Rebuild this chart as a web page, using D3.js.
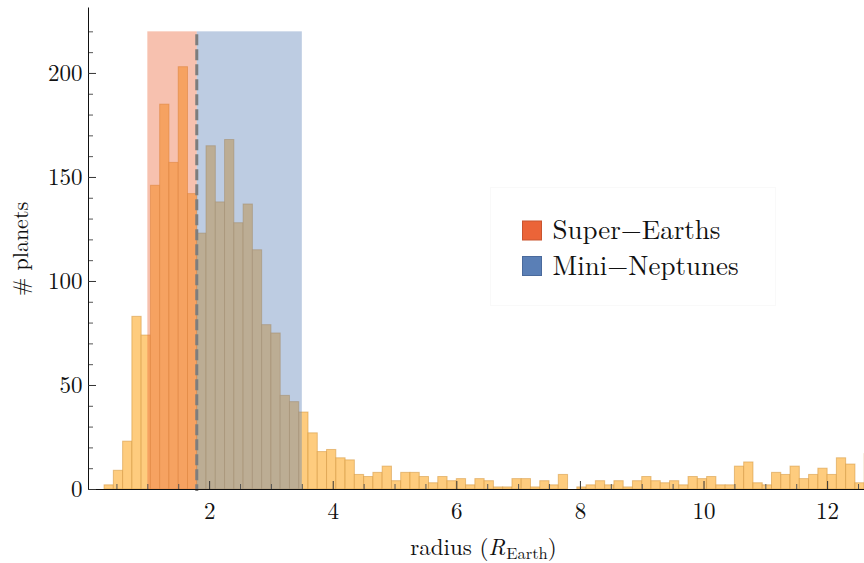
<!DOCTYPE html>
<html><head><meta charset="utf-8">
<script src="https://cdn.jsdelivr.net/npm/d3@7"></script>
</head><body style="margin:0;background:#fff">
<svg id="chart" width="864" height="563" style="display:block"></svg>
<script>
// ---- data ----
const binStart = 0.3;      // left edge of first histogram bin (R_Earth)
const binWidth = 0.15;     // bin width (R_Earth)
const counts = [
  2, 9, 23, 83, 74, 146, 185, 157, 203, 142,      // 0.30 - 1.65
  123, 165, 138, 168, 128, 137, 115, 79, 75, 45,  // 1.80 - 3.15
  42, 37, 27, 18, 19, 15, 14, 7, 6, 8,            // 3.30 - 4.65
  11, 4, 8, 8, 6, 3, 6, 4, 5, 2,                  // 4.80 - 6.15
  5, 4, 1, 1, 5, 5, 1, 4, 2, 7,                   // 6.30 - 7.65
  0, 1, 2, 4, 2, 4, 1, 4, 6, 4,                   // 7.80 - 9.15
  3, 4, 2, 6, 5, 6, 2, 2, 11, 13,                 // 9.30 - 10.65
  3, 2, 8, 7, 11, 5, 7, 10, 7, 15,                // 10.80 - 12.15
  12, 3, 17                                       // 12.30 - 12.60
];
const regionNames = ["Super\u2212Earths", "Mini\u2212Neptunes"];
const regionFrom = [1.0, 1.8];
const regionTo = [1.8, 3.5];
const regionHeight = 220;
const dividerRadius = 1.8;
const xMajorTicks = [2, 4, 6, 8, 10, 12];
const yMajorTicks = [0, 50, 100, 150, 200];
const xLabel = "radius";
const yLabel = "# planets";

// ---- styles ----
const FONT = '"Latin Modern Roman","Liberation Serif",serif';
const barFill = "#fecc7e";
const barStroke = "rgba(212,150,60,0.55)";
const regionColors = ["rgb(235,100,56)", "rgb(90,127,182)"];
const legendStroke = ["#c9542f", "#4a6a9c"];

const svg = d3.select("#chart");
const x = d3.scaleLinear().domain([0.04, 12.6]).range([88, 864.2]);
const y = d3.scaleLinear().domain([0, 231.7]).range([489, 7]);

const bins = counts.map((c, i) => ({x0: binStart + i * binWidth, x1: binStart + (i + 1) * binWidth, c}));

// bars
svg.append("g").selectAll("rect").data(bins.filter(d => d.c > 0)).join("rect")
  .attr("x", d => x(d.x0))
  .attr("width", d => x(d.x1) - x(d.x0))
  .attr("y", d => y(d.c))
  .attr("height", d => y(0) - y(d.c))
  .attr("fill", barFill)
  .attr("stroke", barStroke)
  .attr("stroke-width", 1);

// shaded regions
svg.append("g").selectAll("rect").data(regionNames).join("rect")
  .attr("x", (d, i) => x(regionFrom[i]))
  .attr("width", (d, i) => x(regionTo[i]) - x(regionFrom[i]))
  .attr("y", y(regionHeight))
  .attr("height", y(0) - y(regionHeight))
  .attr("fill", (d, i) => regionColors[i])
  .attr("fill-opacity", 0.4);

// divider
svg.append("line")
  .attr("x1", x(dividerRadius)).attr("x2", x(dividerRadius))
  .attr("y1", y(regionHeight) + 3).attr("y2", y(0) + 2)
  .attr("stroke", "#7d7d7d").attr("stroke-width", 3)
  .attr("stroke-dasharray", "11,4");

// axes
const xMinor = d3.range(0.5, 12.6, 0.5).filter(v => !xMajorTicks.includes(v));
const yMinor = d3.range(10, 230, 10).filter(v => !yMajorTicks.includes(v));

const gxMinor = svg.append("g").attr("transform", "translate(0,489)")
  .call(d3.axisBottom(x).tickValues(xMinor).tickSizeInner(-5).tickSizeOuter(0).tickFormat(""));
gxMinor.select(".domain").remove();
gxMinor.selectAll("line").attr("stroke", "#555");

const gx = svg.append("g").attr("transform", "translate(0,489)")
  .call(d3.axisBottom(x).tickValues(xMajorTicks).tickSizeInner(-8).tickSizeOuter(0).tickPadding(14));
gx.selectAll("text").style("font-family", FONT).style("font-size", "23px").attr("fill", "#111");
gx.selectAll(".tick line").attr("stroke", "#333");
gx.select(".domain").attr("stroke", "#111");

const gyMinor = svg.append("g").attr("transform", "translate(88,0)")
  .call(d3.axisLeft(y).tickValues(yMinor).tickSizeInner(-5).tickSizeOuter(0).tickFormat(""));
gyMinor.select(".domain").remove();
gyMinor.selectAll("line").attr("stroke", "#555");

const gy = svg.append("g").attr("transform", "translate(88,0)")
  .call(d3.axisLeft(y).tickValues(yMajorTicks).tickSizeInner(-8).tickSizeOuter(0).tickPadding(5.5));
gy.selectAll("text").style("font-family", FONT).style("font-size", "23px").attr("fill", "#111");
gy.selectAll(".tick line").attr("stroke", "#333");
gy.select(".domain").attr("stroke", "#111");

// axis titles
svg.append("text")
  .attr("transform", "translate(28,249) rotate(-90)")
  .attr("text-anchor", "middle")
  .style("font-family", FONT).style("font-size", "22px").attr("fill", "#111")
  .text(yLabel);

const xt = svg.append("text")
  .attr("x", 483.5).attr("y", 555)
  .attr("text-anchor", "middle")
  .style("font-family", FONT).style("font-size", "23px").attr("fill", "#111");
xt.append("tspan").text(xLabel + " (");
xt.append("tspan").style("font-style", "italic").text("R");
xt.append("tspan").style("font-size", "16.5px").attr("dx", 1).attr("dy", 4).text("Earth");
xt.append("tspan").attr("dy", -4).text(")");

// legend
const lg = svg.append("g");
lg.append("rect").attr("x", 490.5).attr("y", 187.5).attr("width", 285).attr("height", 118)
  .attr("fill", "#fff").attr("stroke", "rgba(0,0,0,0.025)");
const items = lg.selectAll("g.item").data(regionNames).join("g").attr("class", "item")
  .attr("transform", (d, i) => `translate(522.5,${221 + i * 35.5})`);
items.append("rect").attr("width", 19).attr("height", 19)
  .attr("fill", (d, i) => regionColors[i])
  .attr("stroke", (d, i) => legendStroke[i]).attr("stroke-width", 1);
items.append("text").attr("x", 30).attr("y", 18)
  .style("font-family", FONT).style("font-size", "27px").attr("fill", "#111")
  .text(d => d);
</script>
</body></html>
